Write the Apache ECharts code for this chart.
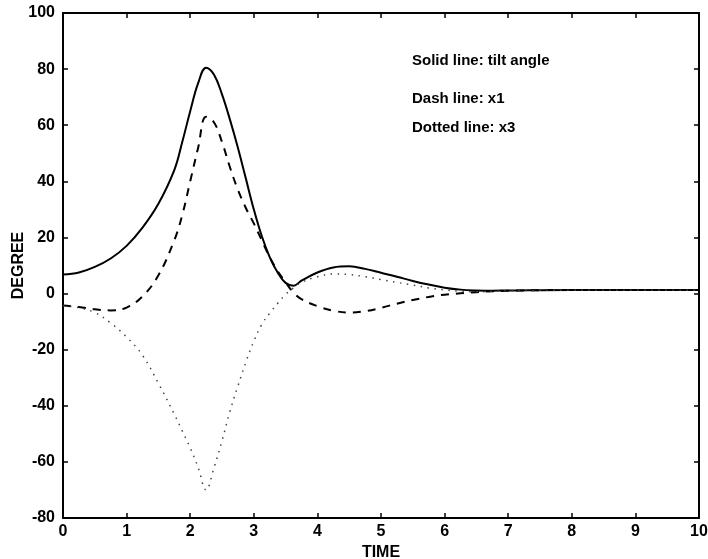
<!DOCTYPE html>
<html>
<head>
<meta charset="utf-8">
<script src="https://cdn.jsdelivr.net/npm/echarts@6/dist/echarts.min.js"></script>
<style>html,body{margin:0;padding:0;background:#fff;}#c{width:708px;height:559px;}</style>
</head>
<body>
<div id="c"></div>
<script>
var timeX     = [0,0.25,0.5,0.75,1,1.25,1.5,1.75,1.875,2,2.125,2.25,2.375,2.5,2.625,2.75,2.875,3,3.125,3.25,3.375,3.5,3.625,3.75,4,4.25,4.5,4.75,5,5.25,5.5,5.75,6,6.25,6.5,6.75,7,8,9,10];
var tiltAngle = [6.8,7.5,9.5,12.5,17,23.5,32,44,54,65,75,80.5,78,71,62,52,41,30,20.5,13,7.5,3.8,2.8,4.6,7.5,9.3,9.7,8.8,7.4,6,4.5,3.2,2.1,1.4,1.1,1,1.1,1.3,1.3,1.3];
var x1        = [-4.3,-4.8,-5.6,-6,-5,-1,6.5,19,28,40,52,63,61,54,45,37,30.5,25,19,13,8,4,0.3,-2,-4.5,-6.1,-6.8,-6.3,-5.1,-3.6,-2.3,-1.2,-0.4,0.1,0.5,0.8,1,1.3,1.3,1.3];
var x3        = [-4.3,-5,-6.8,-10.5,-15.5,-22,-32,-43,-49,-55,-62,-70,-62,-52.5,-42,-33,-24.5,-17,-11,-7,-3.5,-0.3,2,4,6,7,6.8,6,5,4,3,2,1.3,0.8,0.6,0.8,1,1.2,1.2,1.2];
var xTicks = [0,1,2,3,4,5,6,7,8,9,10];
var yTicks = [-80,-60,-40,-20,0,20,40,60,80,100];
var notes = ['Solid line: tilt angle','Dash line: x1','Dotted line: x3'];

function pairs(xs, ys){ return xs.map(function(x,i){return [x, ys[i]];}); }

var chart = echarts.init(document.getElementById('c'));
var fnt = 'Liberation Sans, Arial, sans-serif';
var axLine = {show:true, onZero:false, lineStyle:{color:'#000', width:2}};
var tick = {show:true, inside:true, length:5, lineStyle:{color:'#000', width:1.5}};
chart.setOption({
  animation:false,
  backgroundColor:'#fff',
  grid:{left:63, top:13, right:9, bottom:41, outerBoundsMode:'none', containLabel:false},
  xAxis:[{
    type:'value', min:xTicks[0], max:xTicks[xTicks.length-1], interval:1,
    name:'TIME', nameLocation:'middle', nameGap:24,
    nameTextStyle:{color:'#000', fontSize:16, fontWeight:'bold', fontFamily:fnt},
    axisLine:axLine, axisTick:tick,
    axisLabel:{color:'#000', fontSize:16, fontWeight:'bold', fontFamily:fnt, margin:6},
    splitLine:{show:false}
  },{
    type:'value', position:'top', min:xTicks[0], max:xTicks[xTicks.length-1], interval:1,
    axisLine:axLine, axisTick:tick,
    axisLabel:{show:false}, splitLine:{show:false}
  }],
  yAxis:[{
    type:'value', min:yTicks[0], max:yTicks[yTicks.length-1], interval:20,
    name:'DEGREE', nameLocation:'middle', nameGap:36, nameRotate:90, nameMoveOverlap:false,
    nameTextStyle:{color:'#000', fontSize:16, fontWeight:'bold', fontFamily:fnt},
    axisLine:axLine, axisTick:tick,
    axisLabel:{color:'#000', fontSize:16, fontWeight:'bold', fontFamily:fnt, margin:8},
    splitLine:{show:false}
  },{
    type:'value', position:'right', min:yTicks[0], max:yTicks[yTicks.length-1], interval:20,
    axisLine:axLine, axisTick:tick,
    axisLabel:{show:false}, splitLine:{show:false}
  }],
  series:[
    {type:'line', data:pairs(timeX, tiltAngle), showSymbol:false, smooth:0.4,
     lineStyle:{color:'#000', width:2, type:'solid'}},
    {type:'line', data:pairs(timeX, x1), showSymbol:false, smooth:0.4,
     lineStyle:{color:'#000', width:2, type:[8,7]}},
    {type:'line', data:pairs(timeX, x3), showSymbol:false, smooth:0.4,
     lineStyle:{color:'#444', width:1.5, type:[1.5,5.5]}}
  ],
  graphic:[
    {type:'text', left:412, top:53, style:{text:notes[0], fill:'#000', font:'bold 15px Liberation Sans, Arial, sans-serif'}},
    {type:'text', left:412, top:91, style:{text:notes[1], fill:'#000', font:'bold 15px Liberation Sans, Arial, sans-serif'}},
    {type:'text', left:412, top:120, style:{text:notes[2], fill:'#000', font:'bold 15px Liberation Sans, Arial, sans-serif'}}
  ]
});
</script>
</body>
</html>
